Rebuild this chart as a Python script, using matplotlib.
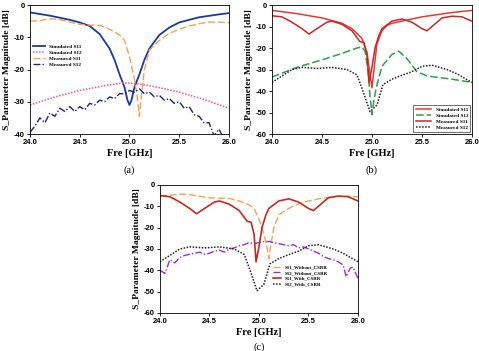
import matplotlib
matplotlib.use("Agg")
import matplotlib.pyplot as plt

# ---------------- data (a) ----------------
a_sim_s11_f = [24.0, 24.2, 24.4, 24.5, 24.6, 24.7, 24.8, 24.85, 24.9, 24.95, 24.98, 25.0, 25.02, 25.05, 25.1, 25.15, 25.2, 25.3, 25.4, 25.5, 25.7, 25.9, 26.0]
a_sim_s11 = [-2.3, -3.3, -4.6, -5.4, -6.5, -9.0, -13.5, -17.0, -21.5, -25.5, -29.5, -31.0, -29.5, -25.5, -21.5, -17.0, -13.5, -9.3, -7.0, -5.4, -3.8, -2.9, -2.5]

a_meas_s11_f = [24.0, 24.1, 24.2, 24.3, 24.4, 24.5, 24.6, 24.7, 24.8, 24.9, 24.95, 25.0, 25.05, 25.08, 25.1, 25.12, 25.15, 25.2, 25.3, 25.4, 25.5, 25.6, 25.7, 25.8, 25.9, 26.0]
a_meas_s11 = [-5.0, -4.8, -4.3, -4.5, -5.3, -6.0, -6.2, -6.3, -7.5, -9.3, -11.0, -16.0, -23.0, -29.0, -34.5, -28.0, -20.0, -14.0, -11.0, -8.8, -7.5, -6.5, -5.8, -5.3, -5.3, -5.5]

a_sim_s12_f = [24.0, 24.25, 24.5, 24.75, 24.9, 25.0, 25.1, 25.25, 25.5, 25.75, 26.0]
a_sim_s12 = [-31.0, -28.5, -26.5, -25.0, -24.3, -24.2, -24.5, -25.3, -27.0, -29.3, -32.0]

a_meas_s12_f = [24.00, 24.05, 24.10, 24.15, 24.20, 24.25, 24.30, 24.35, 24.40, 24.45, 24.50, 24.55, 24.60, 24.65, 24.70, 24.75, 24.80, 24.85, 24.90, 24.95, 25.00, 25.05, 25.10, 25.15, 25.20, 25.25, 25.30, 25.35, 25.40, 25.45, 25.50, 25.55, 25.60, 25.65, 25.70, 25.75, 25.80, 25.85, 25.90, 25.95, 26.00]
a_meas_s12 = [-39.5, -37.5, -35.0, -36.5, -33.5, -34.5, -32.0, -33.0, -31.5, -33.0, -31.5, -32.5, -30.5, -31.0, -29.5, -30.0, -28.5, -29.0, -27.5, -27.5, -26.5, -27.0, -26.0, -27.5, -27.0, -28.5, -28.0, -29.5, -29.0, -30.5, -30.0, -32.0, -31.5, -34.0, -34.5, -36.5, -36.5, -40.5, -38.5, -41.5, -41.5]

# ---------------- data (b) ----------------
b_sim_s11_f = [24.0, 24.25, 24.5, 24.7, 24.8, 24.9, 24.95, 24.98, 25.0, 25.02, 25.05, 25.1, 25.15, 25.2, 25.3, 25.5, 25.8, 26.0]
b_sim_s11 = [-2.5, -4.0, -6.0, -8.5, -11.0, -15.5, -22.0, -32.0, -38.5, -30.0, -18.0, -12.0, -9.5, -8.5, -7.5, -5.5, -3.5, -2.5]

b_meas_s11_f = [24.0, 24.1, 24.2, 24.3, 24.37, 24.45, 24.55, 24.6, 24.7, 24.8, 24.88, 24.92, 24.95, 24.97, 25.0, 25.03, 25.07, 25.1, 25.2, 25.3, 25.4, 25.5, 25.55, 25.6, 25.7, 25.8, 25.9, 26.0]
b_meas_s11 = [-5.0, -5.5, -8.0, -11.0, -13.5, -11.0, -8.0, -7.5, -9.0, -12.0, -17.0, -17.5, -23.0, -36.0, -29.0, -20.0, -14.0, -11.0, -7.5, -6.5, -8.0, -11.0, -12.0, -10.0, -6.0, -5.2, -5.5, -7.5]

b_sim_s12_f = [24.0, 24.25, 24.5, 24.7, 24.85, 24.9, 24.93, 24.96, 24.98, 25.0, 25.02, 25.05, 25.1, 25.2, 25.27, 25.35, 25.45, 25.55, 25.8, 26.0]
b_sim_s12 = [-33.5, -29.0, -25.5, -22.5, -20.0, -19.5, -21.5, -30.0, -42.0, -51.0, -44.0, -37.0, -28.5, -23.0, -21.5, -25.0, -31.0, -33.0, -34.5, -36.0]

b_meas_s12_f = [24.0, 24.1, 24.2, 24.3, 24.45, 24.6, 24.75, 24.85, 24.91, 24.98, 25.05, 25.11, 25.2, 25.28, 25.4, 25.5, 25.6, 25.75, 25.85, 26.0]
b_meas_s12 = [-36.0, -33.0, -30.0, -29.0, -29.5, -29.0, -30.0, -32.5, -40.0, -49.6, -46.5, -37.0, -34.5, -33.0, -31.0, -28.5, -28.0, -30.0, -32.0, -36.0]

# ---------------- data (c) ----------------
c_s12_wo_f = [24.00, 24.05, 24.10, 24.15, 24.20, 24.25, 24.30, 24.35, 24.40, 24.45, 24.50, 24.55, 24.60, 24.65, 24.70, 24.75, 24.80, 24.85, 24.90, 24.95, 25.00, 25.05, 25.10, 25.15, 25.20, 25.25, 25.30, 25.35, 25.40, 25.45, 25.50, 25.55, 25.60, 25.65, 25.70, 25.75, 25.80, 25.85, 25.88, 25.92, 25.95, 26.00]
c_s12_wo = [-40.0, -41.5, -35.0, -36.5, -34.0, -33.0, -32.5, -32.0, -31.5, -32.5, -32.0, -31.0, -30.5, -31.5, -30.0, -29.5, -28.5, -28.0, -27.0, -27.5, -27.0, -26.5, -26.5, -27.0, -27.5, -28.0, -28.5, -28.0, -29.5, -29.0, -30.0, -31.0, -32.0, -33.5, -34.5, -35.0, -36.0, -37.5, -43.0, -39.0, -38.5, -44.0]

categories_a = ["Simulated S11", "Simulated S12", "Measured S11", "Measured S12"]
categories_b = ["Simulated S11", "Simulated S12", "Measured S11", "Measured S12"]
categories_c = ["S11_Without_CSRR", "S12_Without_CSRR", "S11_With_CSRR", "S12_With_CSRR"]
xticks = [24.0, 24.5, 25.0, 25.5, 26.0]
xticklabels = ["24.0", "24.5", "25.0", "25.5", "26.0"]

SERIF = "Liberation Serif"
SANS = "Liberation Sans"

fig = plt.figure(figsize=(4.79, 3.51), dpi=100)

def style(ax, ymin, yticks, label, labely):
    ax.set_xlim(24.0, 26.0)
    ax.set_ylim(ymin, 0)
    ax.set_xticks(xticks)
    ax.set_xticklabels(xticklabels)
    ax.set_yticks(yticks)
    ax.set_yticklabels([str(v) for v in yticks])
    for lab in ax.get_xticklabels() + ax.get_yticklabels():
        lab.set_fontfamily(SANS)
        lab.set_fontweight("bold")
        lab.set_fontsize(5.5)
    ax.tick_params(direction="out", length=2, width=0.6, pad=1.5)
    for s in ax.spines.values():
        s.set_linewidth(0.6)
    ax.set_xlabel("Fre [GHz]", fontfamily=SERIF, fontweight="bold", fontsize=7.5, labelpad=2)
    ax.set_ylabel("S_Parameter Magnitude [dB]", fontfamily=SERIF, fontweight="bold", fontsize=6.8, labelpad=2)
    ax.text(0.5, labely, label, transform=ax.transAxes, ha="center", va="center",
            fontfamily=SERIF, fontsize=7.5)

# (a)
ax1 = fig.add_axes([0.0626, 0.6182, 0.4154, 0.3675])
ax1.plot(a_sim_s11_f, a_sim_s11, color="#1f3a93", lw=1.3, label=categories_a[0])
ax1.plot(a_sim_s12_f, a_sim_s12, color="#f0559a", lw=1.1, ls=(0, (1, 1)), label=categories_a[1])
ax1.plot(a_meas_s11_f, a_meas_s11, color="#f4a259", lw=1.0, ls=(0, (5, 2)), label=categories_a[2])
ax1.plot(a_meas_s12_f, a_meas_s12, color="#1a237e", lw=1.0, ls=(0, (5, 1.5, 1, 1.5)), label=categories_a[3])
style(ax1, -40, [0, -10, -20, -30, -40], "(a)", -0.28)
ax1.legend(loc="upper left", bbox_to_anchor=(0.0, 0.72), frameon=False,
           prop={"family": SERIF, "weight": "bold", "size": 3.8},
           handlelength=2.2, labelspacing=0.25, handletextpad=0.8, borderaxespad=0.2)

# (b)
ax2 = fig.add_axes([0.5678, 0.6182, 0.4175, 0.3675])
ax2.plot(b_sim_s11_f, b_sim_s11, color="#e53935", lw=1.1, label=categories_b[0])
ax2.plot(b_sim_s12_f, b_sim_s12, color="#2e9e4e", lw=1.1, ls=(0, (5, 2)), label=categories_b[1])
ax2.plot(b_meas_s11_f, b_meas_s11, color="#c62828", lw=1.1, label=categories_b[2])
ax2.plot(b_meas_s12_f, b_meas_s12, color="#222222", lw=1.1, ls=(0, (1, 1)), label=categories_b[3])
style(ax2, -60, [0, -10, -20, -30, -40, -50, -60], "(b)", -0.28)
leg = ax2.legend(loc="lower right", frameon=True, fancybox=False,
                 prop={"family": SERIF, "weight": "bold", "size": 3.8},
                 handlelength=3.0, labelspacing=0.25, handletextpad=0.8, borderaxespad=0.3)
leg.get_frame().set_edgecolor("black")
leg.get_frame().set_linewidth(0.5)

# (c)
ax3 = fig.add_axes([0.334, 0.1083, 0.4134, 0.3647])
ax3.plot(a_meas_s11_f, a_meas_s11, color="#f4a259", lw=1.0, ls=(0, (5, 2)), label=categories_c[0])
ax3.plot(c_s12_wo_f, c_s12_wo, color="#9b30c8", lw=1.0, ls=(0, (5, 1.5, 1, 1.5)), label=categories_c[1])
ax3.plot(b_meas_s11_f, b_meas_s11, color="#c62828", lw=1.2, label=categories_c[2])
ax3.plot(b_meas_s12_f, b_meas_s12, color="#222222", lw=1.1, ls=(0, (1, 1)), label=categories_c[3])
style(ax3, -60, [0, -10, -20, -30, -40, -50, -60], "(c)", -0.27)
ax3.legend(loc="upper left", bbox_to_anchor=(0.56, 0.39), frameon=False,
           prop={"family": SERIF, "weight": "bold", "size": 3.5},
           handlelength=1.6, labelspacing=0.25, handletextpad=0.9, borderaxespad=0.0)

fig.savefig("out.png", dpi=100)
